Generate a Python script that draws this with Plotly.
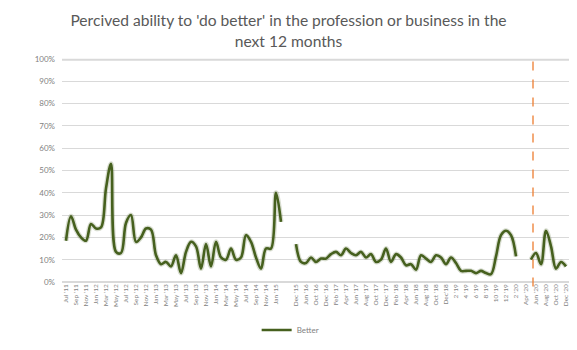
import plotly.graph_objects as go

labels_even = ["Jul '11", "Sep '11", "Nov '11", "Jan '12", "Mar '12", "May '12", "Jul '12", "Sep '12",
               "Nov '12", "Jan '13", "Mar '13", "May '13", "Jul '13", "Sep '13", "Nov '13", "Jan '14",
               "Mar '14", "May '14", "Jul '14", "Sep '14", "Nov '14", "Jan '15", "",
               "Dec '15", "Jun '16", "Oct '16", "Dec '16", "Feb '17", "Apr '17", "Jun '17", "Aug '17",
               "Oct '17", "Dec '17", "Feb '18", "Apr '18", "Jun '18", "Aug '18", "Oct '18", "Dec'18",
               "2 '19", "4 '19", "6 '19", "8 '19", "10 '19", "12 '19", "2 '20", "Apr '20", "Jun '20",
               "Aug '20", "Oct '20", "Dec '20"]

better = [18.5, 29.5, 23.5, 20, 18.5, 26, 24, 24.5, 42, 53,
          13.5, 13, 26.5, 30, 18, 20, 24, 23.5, 12, 8,
          9, 7, 12, 4, 13.5, 18, 16, 6, 17, 7,
          18, 11, 10, 15, 10, 11, 21, 18, 11, 6,
          15, 15, 40, 27, None, None, 17, 9, 8.5, 11,
          9, 10.5, 10.5, 12.5, 13.5, 12, 15, 13, 12, 13.5,
          11, 12.5, 9, 10, 15, 9, 12.5, 11, 7.5, 8,
          5.5, 12, 10.5, 9, 12, 11, 8, 11, 8.5, 5,
          5, 5, 4, 5, 4, 3.5, 11.5, 21, 23, 21,
          11.5, None, None, 10, 13, 8, 23, 16, 6, 9,
          7]

y_ticks = [0, 10, 20, 30, 40, 50, 60, 70, 80, 90, 100]
y_ticktext = [f"{v}%" for v in y_ticks]
marker_index = 93.4

idx = list(range(len(better)))
tick_idx = list(range(0, len(better), 2))

fig = go.Figure()
fig.add_trace(go.Scatter(x=idx, y=better, mode="lines", line=dict(color="rgba(79,98,40,0.22)", width=5, shape="spline"),
                         hoverinfo="skip", showlegend=False, connectgaps=False))
fig.add_trace(go.Scatter(x=idx, y=better, mode="lines", name="Better",
                         line=dict(color="#46601E", width=2.6, shape="spline"), connectgaps=False))

fig.add_shape(type="line", x0=marker_index, x1=marker_index, y0=-0.02, y1=1.015, xref="x", yref="paper",
              line=dict(color="#ED7D31", width=1.3, dash="dash"))
fig.add_shape(type="line", x0=0, x1=1, y0=0.997, y1=0.997, xref="paper", yref="paper", layer="below",
              line=dict(color="#D9D9D9", width=2))

fig.update_layout(
    width=577, height=350,
    margin=dict(l=62, r=8, t=59, b=68, autoexpand=False),
    paper_bgcolor="white", plot_bgcolor="white",
    title=dict(text="Percived ability to 'do better' in the profession or business in the<br>next 12 months",
               x=0.5, xanchor="center", y=0.925, yanchor="middle", yref="container",
               font=dict(family="Lato, Open Sans, sans-serif", size=15.6, color="#595959")),
    font=dict(family="Lato, Open Sans, sans-serif", color="#7F7F7F"),
    xaxis=dict(range=[-0.8, 100.6], tickmode="array", tickvals=tick_idx, ticktext=labels_even,
               tickangle=-90, tickfont=dict(size=6.5, color="#7F7F7F"), showgrid=False, zeroline=False,
               showline=False, ticks="", automargin=False),
    yaxis=dict(range=[0, 100], tickmode="array", tickvals=y_ticks, ticktext=y_ticktext,
               tickfont=dict(size=8, color="#7F7F7F"), gridcolor="#D9D9D9", gridwidth=1,
               zeroline=True, zerolinecolor="#D9D9D9", showline=False, ticks="", ticklabelstandoff=6,
               automargin=False),
    legend=dict(orientation="h", x=0.45, xanchor="center", y=-0.215, yanchor="middle",
                font=dict(size=8, color="#7F7F7F")),
    showlegend=True,
)

fig.write_html("out.html")
